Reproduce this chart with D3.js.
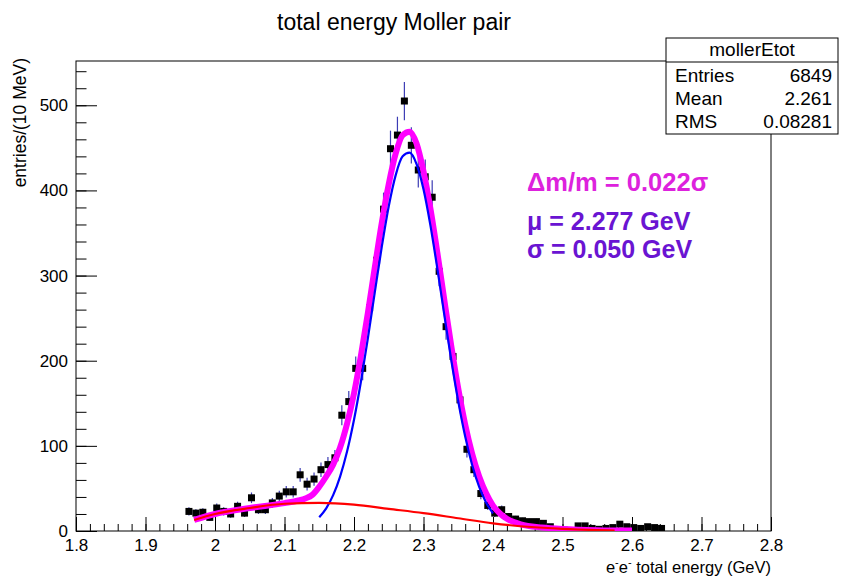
<!doctype html>
<html lang="en">

<head>
    <meta charset="utf-8">
    <title>total energy Moller pair</title>
    <script src="https://cdn.jsdelivr.net/npm/d3@7/dist/d3.min.js"></script>
    <style>
        body {
            margin: 0;
            background: #ffffff;
        }

        svg {
            font-family: "Liberation Sans", Arial, Helvetica, sans-serif;
        }
    </style>
</head>

<body>
    <svg></svg>
    <script>
        var width = 854;
        var height = 579;
        var frame = { left: 76, right: 771, top: 61, bottom: 531 };

        // histogram: bin centres (GeV) and entries per 10 MeV bin
        var binEnergy = [1.9625, 1.9725, 1.9825, 1.9925, 2.0025, 2.0125, 2.0225, 2.0325, 2.0425, 2.0525,
            2.0625, 2.0725, 2.0825, 2.0925, 2.1025, 2.1125, 2.1225, 2.1325, 2.1425, 2.1525,
            2.1625, 2.1725, 2.1825, 2.1925, 2.2025, 2.2125, 2.2225, 2.2325, 2.2425, 2.2525,
            2.2625, 2.2725, 2.2825, 2.2925, 2.3025, 2.3125, 2.3225, 2.3325, 2.3425, 2.3525,
            2.3625, 2.3725, 2.3825, 2.3925, 2.4025, 2.4125, 2.4225, 2.4325, 2.4425, 2.4525,
            2.4625, 2.4725, 2.4825, 2.4925, 2.5025, 2.5125, 2.5225, 2.5325, 2.5425, 2.5525,
            2.5625, 2.5725, 2.5825, 2.5925, 2.6025, 2.6125, 2.6225, 2.6325, 2.6425];
        var binCounts = [23, 21, 22, 16, 27, 23, 20, 29, 21, 39,
            25, 25, 33, 41, 46, 46, 66, 55, 61, 72,
            78, 86, 136, 152, 191, 191, 262, 318, 378, 449,
            465, 505, 453, 424, 416, 392, 305, 240, 205, 154,
            96, 72, 44, 30, 21, 25, 17, 14, 12, 11,
            11, 9, 5, 0, 1, 0, 6, 6, 3, 2,
            3, 4, 8, 5, 4, 3, 5, 4, 3];

        // fit curves
        var totalE = [1.97, 2.00, 2.05, 2.10, 2.12, 2.13, 2.14, 2.15, 2.16, 2.17, 2.18, 2.19, 2.20, 2.21,
            2.22, 2.23, 2.24, 2.25, 2.26, 2.27, 2.28, 2.29, 2.30, 2.31, 2.32, 2.33, 2.34, 2.35, 2.36,
            2.37, 2.38, 2.39, 2.40, 2.41, 2.42, 2.43, 2.44, 2.45, 2.47, 2.50, 2.55, 2.60];
        var totalV = [13, 20, 27, 32.7, 35.8, 38.2, 42.4, 52, 64, 78, 98, 126, 161.6, 206,
            256.3, 310, 362, 407.4, 443.5, 465, 469, 455, 422.3, 378.4, 326.5, 271, 217, 167.2, 125,
            90.7, 64.3, 44.5, 29.8, 20.6, 14.4, 10.5, 7.8, 6, 4.2, 2.5, 1, 0.5];

        var gausE = [2.15, 2.16, 2.17, 2.18, 2.19, 2.20, 2.21, 2.22, 2.23, 2.24, 2.25, 2.26, 2.27,
            2.28, 2.29, 2.30, 2.31, 2.32, 2.33, 2.34, 2.35, 2.36, 2.37, 2.38, 2.39, 2.40];
        var gausV = [16.1, 26.6, 42.1, 63.9, 93.3, 130.6, 175.6, 226.6, 280.8, 333.9, 381.4, 418, 440,
            444.4, 431, 401.3, 358.6, 307.8, 253.6, 200.5, 152.2, 110.9, 77.6, 52.1, 33.6, 20.8];

        var bkgE = [1.97, 2.00, 2.05, 2.10, 2.15, 2.20, 2.25, 2.30, 2.35, 2.40, 2.45, 2.50, 2.55, 2.575];
        var bkgV = [13, 20, 27, 32, 33, 31, 26, 21, 15, 9, 5, 2.5, 1, 0.5];

        var xMajor = [1.8, 1.9, 2.0, 2.1, 2.2, 2.3, 2.4, 2.5, 2.6, 2.7, 2.8];
        var xLabels = ["1.8", "1.9", "2", "2.1", "2.2", "2.3", "2.4", "2.5", "2.6", "2.7", "2.8"];
        var yMajor = [0, 100, 200, 300, 400, 500];

        var statNames = ["Entries", "Mean", "RMS"];
        var statValues = ["6849", "2.261", "0.08281"];

        var svg = d3.select('svg').attr('width', width).attr('height', height);

        var xScale = d3.scaleLinear().domain([1.8, 2.8]).range([frame.left, frame.right]);
        var yScale = d3.scaleLinear().domain([0, 552]).range([frame.bottom, frame.top]);

        svg.append("defs").append("clipPath").attr("id", "plotclip")
            .append("rect")
            .attr("x", frame.left).attr("y", frame.top)
            .attr("width", frame.right - frame.left).attr("height", frame.bottom - frame.top);

        // title
        svg.append("text")
            .attr("x", 394).attr("y", 30)
            .attr("text-anchor", "middle")
            .attr("font-size", "23px")
            .text("total energy Moller pair");

        // axes (ticks point inwards like ROOT)
        var xMinor = d3.range(0, 51).map(function (i) { return 1.8 + i * 0.02; });
        var yMinor = d3.range(0, 28).map(function (i) { return i * 20; });

        var gx = svg.append("g").attr("transform", "translate(0," + frame.bottom + ")");
        gx.call(d3.axisBottom(xScale).tickValues(xMinor).tickSize(-7).tickFormat(""));
        gx.append("g").call(d3.axisBottom(xScale).tickValues(xMajor).tickSize(-14).tickPadding(8)
            .tickFormat(function (d, i) { return xLabels[i]; }));

        var gy = svg.append("g").attr("transform", "translate(" + frame.left + ",0)");
        gy.call(d3.axisLeft(yScale).tickValues(yMinor).tickSize(-10.5).tickFormat(""));
        gy.append("g").call(d3.axisLeft(yScale).tickValues(yMajor).tickSize(-21).tickPadding(8));

        svg.selectAll(".domain").remove();
        svg.selectAll(".tick line").attr("stroke", "#000").attr("stroke-width", 1);
        svg.selectAll(".tick text")
            .attr("font-size", "17px")
            .attr("font-family", '"Liberation Sans", Arial, sans-serif')
            .attr("fill", "#000");

        svg.append("rect")
            .attr("x", frame.left).attr("y", frame.top)
            .attr("width", frame.right - frame.left).attr("height", frame.bottom - frame.top)
            .attr("fill", "none").attr("stroke", "#000").attr("stroke-width", 1);

        // axis titles
        var xt = svg.append("text")
            .attr("x", frame.right).attr("y", 573)
            .attr("text-anchor", "end")
            .attr("font-size", "16.5px");
        xt.append("tspan").text("e");
        xt.append("tspan").attr("font-size", "11px").attr("dy", -7).text("-");
        xt.append("tspan").attr("dy", 7).text("e");
        xt.append("tspan").attr("font-size", "11px").attr("dy", -7).text("-");
        xt.append("tspan").attr("dy", 7).text(" total energy (GeV)");

        svg.append("text")
            .attr("transform", "translate(26,58) rotate(-90)")
            .attr("text-anchor", "end")
            .attr("font-size", "17.5px")
            .text("entries/(10 MeV)");

        // histogram points with errors
        var hist = binEnergy.map(function (e, i) { return { e: e, n: binCounts[i] }; });
        var plot = svg.append("g").attr("clip-path", "url(#plotclip)");

        plot.selectAll("line.err")
            .data(hist.filter(function (d) { return d.n > 0; }))
            .enter()
            .append("line")
            .attr("class", "err")
            .attr("x1", function (d) { return xScale(d.e); })
            .attr("x2", function (d) { return xScale(d.e); })
            .attr("y1", function (d) { return yScale(d.n - Math.sqrt(d.n)); })
            .attr("y2", function (d) { return yScale(d.n + Math.sqrt(d.n)); })
            .attr("stroke", "#3c3cb4")
            .attr("stroke-width", 1.2);

        plot.selectAll("rect.pt")
            .data(hist)
            .enter()
            .append("rect")
            .attr("class", "pt")
            .attr("x", function (d) { return xScale(d.e) - 3.5; })
            .attr("y", function (d) { return yScale(d.n) - 3.5; })
            .attr("width", 7).attr("height", 7)
            .attr("fill", "#000");

        // fit curves
        function curve(es, vs) {
            return es.map(function (e, i) { return [e, vs[i]]; });
        }
        var line = d3.line()
            .x(function (d) { return xScale(d[0]); })
            .y(function (d) { return yScale(d[1]); })
            .curve(d3.curveMonotoneX);

        plot.append("path").datum(curve(totalE, totalV))
            .attr("d", line).attr("fill", "none")
            .attr("stroke", "#ff00ff").attr("stroke-width", 6);
        plot.append("path").datum(curve(gausE, gausV))
            .attr("d", line).attr("fill", "none")
            .attr("stroke", "#0000ff").attr("stroke-width", 2.2);
        plot.append("path").datum(curve(bkgE, bkgV))
            .attr("d", line).attr("fill", "none")
            .attr("stroke", "#ff0000").attr("stroke-width", 2.2);

        // fit result text
        svg.append("text").attr("x", 527).attr("y", 191)
            .attr("font-size", "25.5px").attr("font-weight", "bold").attr("fill", "#dd22dd")
            .text("\u0394m/m = 0.022\u03c3");
        svg.append("text").attr("x", 527).attr("y", 230)
            .attr("font-size", "25px").attr("font-weight", "bold").attr("fill", "#6a14d2")
            .text("\u03bc = 2.277 GeV");
        svg.append("text").attr("x", 527).attr("y", 258)
            .attr("font-size", "25px").attr("font-weight", "bold").attr("fill", "#6a14d2")
            .text("\u03c3 = 0.050 GeV");

        // stats box
        var box = { x: 666, y: 38, w: 172, h: 96, head: 24 };
        svg.append("rect")
            .attr("x", box.x).attr("y", box.y).attr("width", box.w).attr("height", box.h)
            .attr("fill", "#fff").attr("stroke", "#000").attr("stroke-width", 1);
        svg.append("line")
            .attr("x1", box.x).attr("x2", box.x + box.w)
            .attr("y1", box.y + box.head).attr("y2", box.y + box.head)
            .attr("stroke", "#000");
        svg.append("text")
            .attr("x", box.x + box.w / 2).attr("y", box.y + 18)
            .attr("text-anchor", "middle").attr("font-size", "19px")
            .text("mollerEtot");
        statNames.forEach(function (name, i) {
            var yy = box.y + box.head + 20 + i * 23;
            svg.append("text").attr("x", box.x + 9).attr("y", yy)
                .attr("font-size", "19px").text(name);
            svg.append("text").attr("x", box.x + box.w - 6).attr("y", yy)
                .attr("text-anchor", "end").attr("font-size", "19px").text(statValues[i]);
        });
    </script>

</body>

</html>
